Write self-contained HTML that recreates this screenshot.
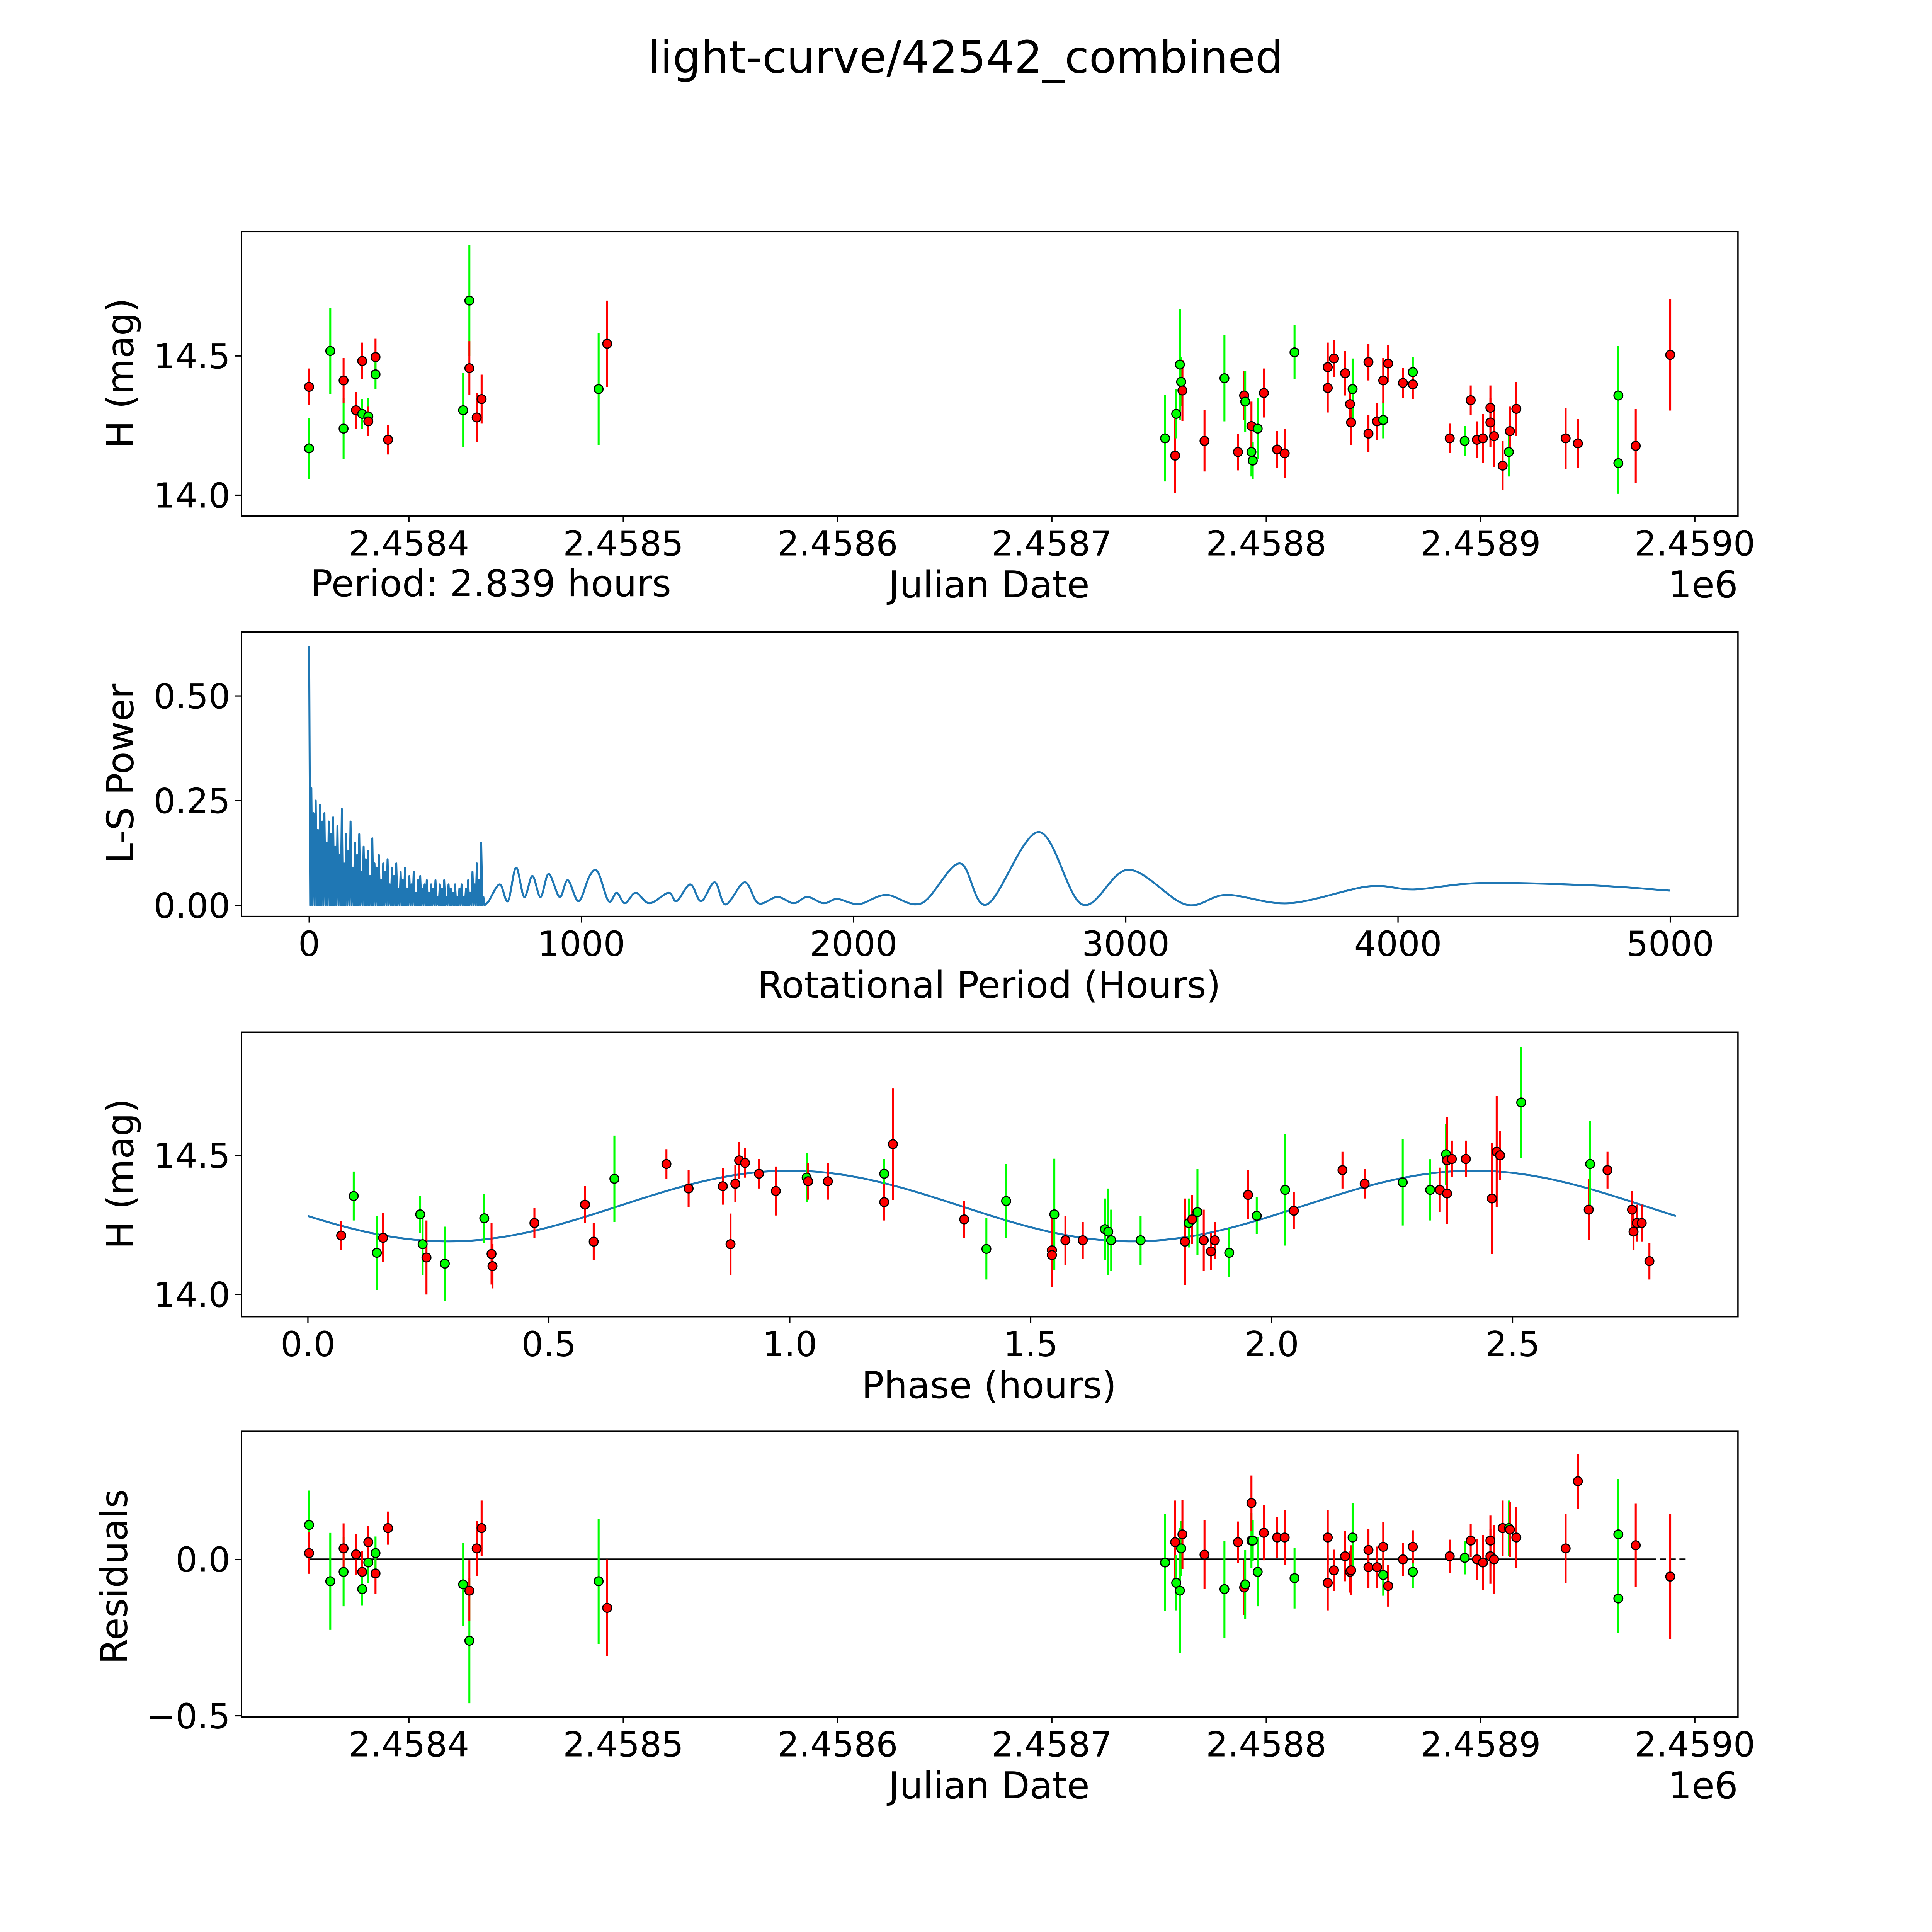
<!DOCTYPE html>
<html><head><meta charset="utf-8"><title>light-curve/42542_combined</title>
<style>html,body{margin:0;padding:0;background:#fff;overflow:hidden}svg{display:block}text{font-family:"DejaVu Sans","Liberation Sans",sans-serif;fill:#000}</style>
</head><body>
<svg id="fig" width="5400" height="5400" viewBox="0 0 1694 1694" xmlns="http://www.w3.org/2000/svg">
<rect width="1694" height="1694" fill="#fff"/>
<text x="784" y="59" font-size="36" text-anchor="middle">light-curve/42542_combined</text>
<g id="g1"></g>
<g id="g2"></g>
<g id="g3"></g>
<g id="g4"></g>
</svg>
<script>
// ---- data: light curve (days since JD 2458400) ----
const jd=[-46.6,-46.6,-36.7,-30.5,-30.5,-24.7,-21.8,-21.8,-18.95,-18.95,-15.6,-15.6,-9.74,25.3,28.2,28.2,31.6,33.9,88.5,92.5,352.8,357.5,358.0,359.7,360.3,360.9,371.2,380.5,386.8,389.7,390.2,393.1,393.1,393.7,396.0,398.9,405.1,408.6,413.2,428.7,428.7,431.6,436.8,439.1,439.6,440.3,447.7,447.7,451.7,454.6,454.6,456.9,463.8,468.4,468.4,485.6,492.6,495.4,498.3,501.1,504.6,504.6,506.3,510.3,513.2,513.7,516.7,539.7,545.4,564.3,564.3,572.4,588.5];
const mag=[14.168,14.389,14.518,14.239,14.412,14.305,14.482,14.292,14.283,14.265,14.496,14.434,14.199,14.305,14.699,14.456,14.279,14.345,14.381,14.544,14.204,14.142,14.292,14.469,14.407,14.376,14.195,14.420,14.155,14.358,14.336,14.155,14.248,14.124,14.239,14.367,14.164,14.150,14.513,14.460,14.385,14.491,14.438,14.327,14.261,14.381,14.478,14.221,14.265,14.270,14.412,14.473,14.403,14.442,14.398,14.204,14.195,14.341,14.199,14.204,14.314,14.261,14.212,14.106,14.155,14.230,14.310,14.204,14.186,14.358,14.115,14.177,14.504];
const err=[0.11,0.066,0.155,0.11,0.08,0.066,0.066,0.053,0.066,0.053,0.066,0.053,0.053,0.133,0.2,0.097,0.088,0.088,0.2,0.155,0.155,0.133,0.088,0.2,0.088,0.11,0.11,0.155,0.066,0.088,0.11,0.088,0.088,0.066,0.11,0.088,0.066,0.088,0.097,0.088,0.088,0.066,0.08,0.066,0.08,0.11,0.066,0.066,0.066,0.066,0.08,0.066,0.053,0.053,0.053,0.053,0.053,0.053,0.066,0.088,0.08,0.088,0.11,0.088,0.088,0.088,0.097,0.11,0.088,0.177,0.11,0.133,0.2];
const col=['g','r','g','g','r','r','r','g','g','r','r','g','r','g','g','r','r','r','g','r','g','r','g','g','g','r','r','g','r','r','g','g','r','g','g','r','r','r','g','r','r','r','r','r','r','g','r','r','r','g','r','r','r','g','r','r','g','r','r','r','r','r','r','r','g','r','r','r','r','g','g','r','r'];
const resid=[0.11,0.02,-0.07,-0.04,0.035,0.016,-0.04,-0.095,-0.01,0.055,-0.045,0.02,0.10,-0.08,-0.26,-0.10,0.035,0.10,-0.07,-0.155,-0.01,0.055,-0.075,-0.10,0.035,0.08,0.015,-0.095,0.055,-0.09,-0.08,0.06,0.18,0.06,-0.04,0.085,0.07,0.07,-0.06,0.07,-0.075,-0.035,0.01,-0.04,-0.035,0.07,0.03,-0.025,-0.025,-0.05,0.04,-0.085,0.0,-0.04,0.04,0.01,0.005,0.06,0.0,-0.01,0.06,0.01,0.0,0.10,0.10,0.095,0.07,0.035,0.25,0.08,-0.125,0.045,-0.055];
// ---- data: phase-folded ----
const phase=[0.069,0.095,0.143,0.156,0.233,0.238,0.246,0.284,0.366,0.381,0.383,0.470,0.575,0.593,0.636,0.744,0.790,0.861,0.877,0.887,0.895,0.907,0.936,0.971,1.035,1.038,1.079,1.196,1.196,1.214,1.362,1.408,1.449,1.544,1.544,1.549,1.572,1.608,1.654,1.661,1.667,1.728,1.820,1.828,1.835,1.846,1.859,1.874,1.882,1.912,1.951,1.969,2.028,2.046,2.147,2.193,2.272,2.329,2.349,2.362,2.364,2.364,2.374,2.403,2.457,2.467,2.474,2.518,2.658,2.661,2.697,2.748,2.751,2.758,2.768,2.784];
const pmag=[14.212,14.354,14.150,14.204,14.288,14.181,14.133,14.111,14.274,14.146,14.102,14.257,14.323,14.190,14.416,14.469,14.381,14.389,14.181,14.398,14.482,14.473,14.434,14.372,14.420,14.407,14.407,14.434,14.332,14.540,14.270,14.164,14.336,14.159,14.142,14.288,14.195,14.195,14.235,14.226,14.195,14.195,14.190,14.257,14.270,14.296,14.195,14.155,14.195,14.150,14.358,14.283,14.376,14.301,14.447,14.398,14.403,14.376,14.376,14.504,14.482,14.363,14.487,14.487,14.345,14.513,14.500,14.690,14.305,14.469,14.447,14.305,14.226,14.257,14.257,14.120];
const perr=[0.053,0.088,0.133,0.088,0.066,0.11,0.133,0.133,0.088,0.11,0.08,0.053,0.066,0.066,0.155,0.053,0.066,0.066,0.11,0.066,0.066,0.053,0.053,0.088,0.088,0.066,0.066,0.053,0.066,0.2,0.066,0.11,0.133,0.133,0.088,0.2,0.088,0.066,0.11,0.155,0.11,0.088,0.155,0.088,0.088,0.155,0.11,0.066,0.066,0.088,0.088,0.066,0.2,0.066,0.066,0.053,0.155,0.11,0.08,0.11,0.155,0.11,0.066,0.066,0.2,0.2,0.088,0.2,0.11,0.155,0.066,0.066,0.066,0.066,0.066,0.066];
const pcol=['r','g','g','r','g','g','r','g','g','r','r','r','r','r','g','r','r','r','r','r','r','r','r','r','g','r','r','g','r','r','r','g','g','r','r','g','r','r','g','g','g','g','r','g','r','g','r','r','r','g','r','g','g','r','r','r','g','g','r','g','r','r','r','r','r','r','r','g','r','g','r','r','r','r','r','r'];
const modelCoef=[14.318,0.127,1.0,2.839]; // mean, amplitude, peak phase, period
// ---- data: periodogram ----
const spikeStep=8;
const spikePower=[0.62,0.28,0.22,0.25,0.18,0.24,0.2,0.22,0.15,0.2,0.17,0.21,0.14,0.19,0.12,0.23,0.1,0.17,0.13,0.2,0.09,0.15,0.12,0.17,0.08,0.14,0.11,0.13,0.07,0.16,0.1,0.09,0.12,0.06,0.1,0.08,0.11,0.05,0.09,0.07,0.1,0.04,0.08,0.06,0.09,0.04,0.07,0.05,0.08,0.03,0.06,0.07,0.04,0.05,0.06,0.03,0.05,0.04,0.06,0.02,0.05,0.04,0.06,0.02,0.05,0.04,0.03,0.05,0.02,0.04,0.05,0.02,0.04,0.06,0.03,0.08,0.05,0.1,0.06,0.15,0.02];
const smoothPeriod=[660,700,730,760,790,820,850,880,920,950,990,1030,1060,1100,1130,1160,1200,1250,1320,1350,1400,1440,1490,1530,1600,1650,1720,1780,1830,1890,1940,2020,2120,2250,2390,2490,2680,2840,3010,3220,3370,3600,3890,4060,4300,4700,5000];
const smoothPower=[0.01,0.05,0.01,0.09,0.02,0.07,0.02,0.075,0.02,0.06,0.01,0.07,0.08,0.01,0.03,0.005,0.03,0.005,0.03,0.01,0.05,0.01,0.055,0.002,0.055,0.005,0.02,0.005,0.02,0.005,0.015,0.003,0.025,0.005,0.1,0.002,0.175,0.002,0.085,0.002,0.025,0.005,0.045,0.038,0.053,0.048,0.035];
// ---- ticks ----
const jdTicks=['2.4584','2.4585','2.4586','2.4587','2.4588','2.4589','2.4590'];
const magTicks=['14.0','14.5'];
const powTicks=['0.00','0.25','0.50'];
const perTicks=['0','1000','2000','3000','4000','5000'];
const phTicks=['0.0','0.5','1.0','1.5','2.0','2.5'];
const resTicks=['−0.5','0.0'];

const NS='http://www.w3.org/2000/svg';
function mk(parent,tag,attrs){const e=document.createElementNS(NS,tag);for(const k in attrs)e.setAttribute(k,attrs[k]);parent.appendChild(e);return e;}
const X0=196,X1=1411;
const P=[{y0:188,y1:419},{y0:513,y1:744},{y0:838,y1:1069},{y0:1162,y1:1394}];
const jdX=t=>332+t*1.74;
const jdTickX=v=>jdX((parseFloat(v)-2.4584)*1e6);
const m1Y=m=>289-(m-14.5)*226;
const m3Y=m=>938-(m-14.5)*226;
const perX=p=>251+p*0.221;
const powY=w=>735-w*340;
const phX=p=>250+p*391.2;
const resY=r=>1266-r*254;
const colors={r:'#ff0000',g:'#00ff00'};

function frame(g,pi){const p=P[pi];const r=mk(g,'rect',{x:X0,y:p.y0,width:X1-X0,height:p.y1-p.y0,fill:'none',stroke:'#000','stroke-width':1.1});

}
function xticks(g,pi,labels,fx){const p=P[pi];labels.forEach(l=>{const x=fx(l);mk(g,'line',{x1:x,x2:x,y1:p.y1,y2:p.y1+5,stroke:'#000','stroke-width':1});const t=mk(g,'text',{x:x,y:p.y1+32,'font-size':28,'text-anchor':'middle'});t.textContent=l;

});}
function yticks(g,pi,labels,fy){const p=P[pi];labels.forEach(l=>{const y=fy(parseFloat(l.replace('−','-')));mk(g,'line',{x1:X0-5,x2:X0,y1:y,y2:y,stroke:'#000','stroke-width':1});const t=mk(g,'text',{x:X0-9,y:y+10,'font-size':28,'text-anchor':'end'});t.textContent=l;

});}
function label(g,txt,x,y,rot,name,anchor){const t=mk(g,'text',{x:x,y:y,'font-size':30,'text-anchor':anchor||'middle'});if(rot)t.setAttribute('transform','rotate(-90 '+x+' '+y+')');t.textContent=txt;

}
function points(g,xs,ys,es,cs,fx,fy,scale){xs.forEach((v,i)=>{const x=fx(v),y=fy(ys[i]),e=es[i]*scale,c=colors[cs[i]];
const ln=mk(g,'line',{x1:x,x2:x,y1:y-e,y2:y+e,stroke:c,'stroke-width':1.6});

});
xs.forEach((v,i)=>{const c=mk(g,'circle',{cx:fx(v),cy:fy(ys[i]),r:3.6,fill:colors[cs[i]],stroke:'#000','stroke-width':0.9});

});}

// Panel 1
const g1=document.getElementById('g1');
frame(g1,0);xticks(g1,0,jdTicks,jdTickX);yticks(g1,0,magTicks,m1Y);
points(g1,jd,mag,err,col,jdX,m1Y,226);
label(g1,'H (mag)',108,303,true,'y-axis-title');
label(g1,'Julian Date',803,485,false,'x-axis-title');
label(g1,'1e6',1411,485,false,'x-offset-label','end');
label(g1,'Period: 2.839 hours',252,484,false,'period-annotation','start');

// Panel 2
const g2=document.getElementById('g2');
frame(g2,1);xticks(g2,1,perTicks,v=>perX(parseFloat(v)));yticks(g2,1,powTicks,powY);
let d='';spikePower.forEach((w,i)=>{const x=perX(i*spikeStep);d+=(i?'L':'M')+x.toFixed(2)+','+powY(w).toFixed(2)+'L'+(perX(i*spikeStep+spikeStep/2)).toFixed(2)+','+powY(0).toFixed(2);});
const pts=smoothPeriod.map((p,i)=>[perX(p),powY(smoothPower[i])]);
d+='L'+pts[0][0]+','+pts[0][1];
for(let i=0;i<pts.length-1;i++){const p0=pts[Math.max(i-1,0)],p1=pts[i],p2=pts[i+1],p3=pts[Math.min(i+2,pts.length-1)];
d+='C'+(p1[0]+(p2[0]-p0[0])/6).toFixed(2)+','+(p1[1]+(p2[1]-p0[1])/6).toFixed(2)+' '+(p2[0]-(p3[0]-p1[0])/6).toFixed(2)+','+(p2[1]-(p3[1]-p1[1])/6).toFixed(2)+' '+p2[0].toFixed(2)+','+p2[1].toFixed(2);}
const pg=mk(g2,'path',{d:d,fill:'none',stroke:'#1f77b4','stroke-width':1.6,'stroke-linejoin':'round'});


label(g2,'L-S Power',108,628,true,'y-axis-title');
label(g2,'Rotational Period (Hours)',803,810,false,'x-axis-title');

// Panel 3
const g3=document.getElementById('g3');
frame(g3,2);xticks(g3,2,phTicks,v=>phX(parseFloat(v)));yticks(g3,2,magTicks,m3Y);
let md='';for(let i=0;i<=300;i++){const p=modelCoef[3]*i/300;const m=modelCoef[0]+modelCoef[1]*Math.cos(4*Math.PI*(p-modelCoef[2])/modelCoef[3]);md+=(i?'L':'M')+phX(p).toFixed(2)+','+m3Y(m).toFixed(2);}
const mc=mk(g3,'path',{d:md,fill:'none',stroke:'#1f77b4','stroke-width':1.6});


points(g3,phase,pmag,perr,pcol,phX,m3Y,226);
label(g3,'H (mag)',108,953,true,'y-axis-title');
label(g3,'Phase (hours)',803,1135,false,'x-axis-title');

// Panel 4
const g4=document.getElementById('g4');
frame(g4,3);xticks(g4,3,jdTicks,jdTickX);yticks(g4,3,resTicks,resY);
const zl=mk(g4,'line',{x1:jdX(-46.6),x2:jdX(579),y1:resY(0),y2:resY(0),stroke:'#000','stroke-width':1.5});


const zd=mk(g4,'line',{x1:jdX(579),x2:jdX(597),y1:resY(0),y2:resY(0),stroke:'#000','stroke-width':1.5,'stroke-dasharray':'5,3'});


points(g4,jd,resid,err,col,jdX,resY,254);
label(g4,'Residuals',103,1280,true,'y-axis-title');
label(g4,'Julian Date',803,1460,false,'x-axis-title');
label(g4,'1e6',1411,1460,false,'x-offset-label','end');
</script>
</body></html>
